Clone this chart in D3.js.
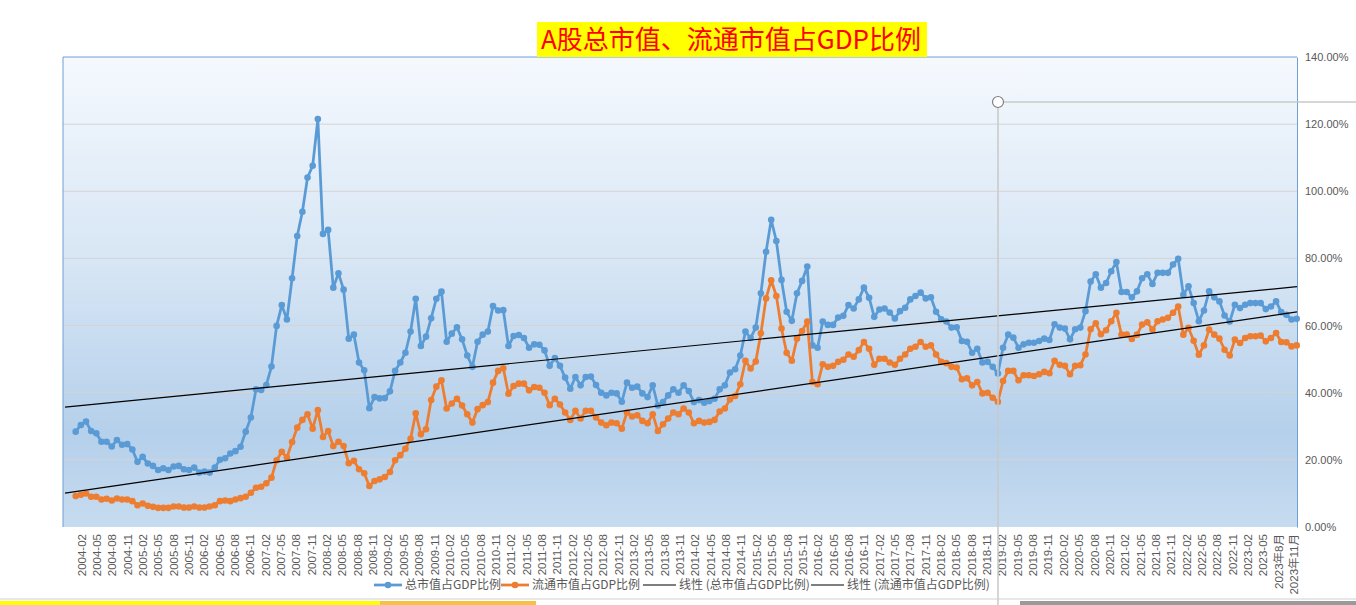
<!DOCTYPE html>
<html>
<head>
<meta charset="utf-8">
<script src="https://cdn.jsdelivr.net/npm/d3@7/dist/d3.min.js"></script>
<style>
  body { margin: 0; background: #fff; }
  svg { display: block; font-family: "Liberation Sans", "Noto Sans CJK SC", sans-serif; }
</style>
</head>
<body>
<svg id="chart" width="1356" height="605"></svg>
<script>
// ---- data (monthly, 2004-02 .. 2023-11, percent of GDP) ----
var startYear = 2004, startMonth = 2;

// 总市值占GDP比例
var totalRatio = [
  28.4,30.4,31.4,28.6,27.9,25.4,25.4,24.0,25.9,24.5,
  24.7,23.1,19.4,20.9,18.9,18.2,17.0,17.5,17.0,18.0,
  18.2,17.2,17.0,17.7,16.2,16.5,16.2,17.7,20.0,20.5,
  21.9,22.6,23.9,28.4,32.6,41.0,40.8,42.3,47.8,59.9,
  66.1,61.8,74.1,86.7,93.9,104.1,107.6,121.5,87.3,88.5,
  71.3,75.6,70.7,56.1,57.3,49.0,46.7,35.4,38.7,38.3,
  38.4,40.4,46.5,49.0,51.9,58.2,68.0,53.9,56.7,62.2,
  68.0,70.1,55.2,57.6,59.5,55.9,51.1,47.7,55.2,57.3,
  58.2,65.8,64.5,64.6,53.9,56.9,57.2,56.3,53.4,54.4,
  54.3,52.6,48.0,50.3,48.0,44.5,41.2,44.7,42.2,44.7,
  44.8,42.3,40.0,39.2,40.0,39.8,37.3,43.0,41.5,41.8,
  39.8,38.7,42.2,36.2,37.2,39.2,41.0,40.0,42.2,40.5,
  37.2,37.8,37.0,37.5,38.2,41.0,42.2,46.0,47.0,51.1,
  58.2,56.3,59.4,69.6,82.0,91.5,85.2,73.6,64.1,61.4,
  69.6,73.3,77.6,54.1,53.4,61.2,60.2,60.2,62.4,62.9,
  66.1,65.1,67.8,71.3,68.3,62.6,64.8,65.1,63.9,62.1,
  64.3,65.3,67.8,68.8,69.8,68.1,68.4,64.1,61.9,61.2,
  59.4,59.5,55.4,55.2,51.9,53.1,49.0,49.2,47.7,45.7,
  53.4,57.3,56.4,53.4,54.4,54.9,54.9,55.4,56.1,55.7,
  60.4,59.4,59.1,55.9,58.9,59.4,64.3,73.1,75.3,71.3,
  72.7,76.2,78.9,70.0,70.0,68.4,70.2,74.1,75.3,72.4,
  75.7,75.7,75.7,78.2,79.9,69.2,71.7,66.7,61.3,64.5,
  70.2,68.4,67.2,63.0,61.2,66.2,65.2,66.2,66.7,66.7,
  66.7,64.9,65.7,67.2,64.0,63.2,61.8,62.0
];

// 流通市值占GDP比例
var floatRatio = [
  9.2,9.6,10.0,9.0,9.0,8.2,8.4,7.9,8.5,8.2,
  8.2,7.7,6.5,7.0,6.3,6.0,5.7,5.7,5.7,6.1,
  6.1,5.8,5.8,6.1,5.8,5.8,6.1,6.5,7.7,7.9,
  7.7,8.2,8.6,9.0,10.2,11.7,12.0,13.0,14.7,19.9,
  22.4,20.7,25.3,29.6,31.9,33.6,29.3,34.8,26.8,28.6,
  24.1,25.4,24.1,19.0,19.7,17.2,16.0,12.2,13.7,14.2,
  14.9,16.4,19.9,21.4,23.3,26.3,33.9,27.6,29.1,37.8,
  41.8,43.7,35.3,36.8,38.2,36.2,33.6,31.1,35.1,36.3,
  37.2,43.0,46.5,47.3,39.7,42.0,42.7,42.7,40.7,41.7,
  41.5,40.0,36.3,38.2,36.5,34.1,31.9,34.6,32.3,34.6,
  34.6,32.6,31.1,30.3,31.1,30.9,29.3,34.1,32.9,33.3,
  31.6,30.9,33.6,28.6,30.6,32.3,34.1,33.6,35.3,34.1,
  30.9,31.6,31.1,31.3,31.9,34.4,35.3,38.0,39.0,42.5,
  49.5,47.2,49.3,57.7,68.1,73.5,68.8,59.1,51.9,49.5,
  56.1,58.4,61.2,43.2,42.5,48.5,47.7,48.0,49.2,49.8,
  51.4,50.7,52.7,55.1,53.1,48.3,50.1,50.1,49.0,48.3,
  50.1,51.4,53.1,53.7,55.1,53.7,54.1,51.4,49.2,48.8,
  47.7,47.5,44.0,44.3,42.2,43.2,39.8,40.0,38.5,37.3,
  43.5,46.5,46.5,43.7,45.2,45.2,45.0,45.5,46.2,45.8,
  49.5,48.3,48.0,45.5,48.0,48.2,51.4,58.9,60.7,57.4,
  58.6,61.3,63.8,57.3,57.3,56.0,57.3,60.3,61.0,58.8,
  61.3,61.8,62.3,63.8,65.7,57.3,59.3,55.5,51.3,54.1,
  58.8,57.3,56.1,52.8,51.1,55.8,54.8,56.3,56.8,56.8,
  57.0,55.3,56.3,57.8,55.1,55.0,53.8,54.1
];

var yTicks = [0, 20, 40, 60, 80, 100, 120, 140];
var labelEvery = 3;
var labelOverrides = { "2023-08": "2023年8月", "2023-11": "2023年11月" };

var seriesNames = ["总市值占GDP比例", "流通市值占GDP比例"];
var seriesColors = ["#5b9bd5", "#ed7d31"];
var legendNames = ["总市值占GDP比例", "流通市值占GDP比例", "线性 (总市值占GDP比例)", "线性 (流通市值占GDP比例)"];
var titleText = "A股总市值、流通市值占GDP比例";

// month categories
var months = [];
for (var k = 0; k < totalRatio.length; k++) {
  var m = startMonth - 1 + k;
  var yy = startYear + Math.floor(m / 12);
  var mm = (m % 12) + 1;
  months.push(yy + "-" + (mm < 10 ? "0" + mm : mm));
}

// ---- layout ----
var svg = d3.select("#chart");
var plot = { left: 63, right: 1297, top: 57, bottom: 527 };

var x = d3.scalePoint().domain(months).range([75.7, 1296.7]);
var xLabel = d3.scalePoint().domain(months).range([81.5, 1294]);
var y = d3.scaleLinear().domain([0, 140]).range([plot.bottom, plot.top]);

// plot background gradient
var defs = svg.append("defs");
var grad = defs.append("linearGradient").attr("id", "bg").attr("x1", 0).attr("y1", 0).attr("x2", 0).attr("y2", 1);
grad.append("stop").attr("offset", "0%").attr("stop-color", "#f5f9fe");
grad.append("stop").attr("offset", "45%").attr("stop-color", "#d6e5f4");
grad.append("stop").attr("offset", "80%").attr("stop-color", "#b5d0eb");
grad.append("stop").attr("offset", "100%").attr("stop-color", "#c6dbef");

svg.append("rect")
  .attr("x", plot.left).attr("y", plot.top)
  .attr("width", plot.right - plot.left).attr("height", plot.bottom - plot.top)
  .attr("fill", "url(#bg)");

// gridlines
svg.append("g").selectAll("line")
  .data(yTicks.filter(function (d) { return d > 0 && d < 140; }))
  .join("line")
  .attr("x1", plot.left).attr("x2", plot.right)
  .attr("y1", function (d) { return y(d); }).attr("y2", function (d) { return y(d); })
  .attr("stroke", "#d4d4d4").attr("stroke-width", 1);

// plot border (left / top)
svg.append("path")
  .attr("d", "M" + plot.left + "," + plot.bottom + "V" + plot.top + "H" + plot.right)
  .attr("fill", "none").attr("stroke", "#6f9fd3").attr("stroke-width", 1);

// right axis
var yAxis = d3.axisRight(y).tickValues(yTicks)
  .tickFormat(function (d) { return d.toFixed(2) + "%"; })
  .tickSize(0).tickPadding(8);
var gy = svg.append("g").attr("transform", "translate(" + plot.right + ",0)").call(yAxis);
gy.select(".domain").attr("stroke", "#6f9fd3");
gy.selectAll("text").attr("fill", "#595959").style("font-size", "11px")
  .style("font-family", "'Liberation Sans', sans-serif");

// x labels
svg.append("g").selectAll("text")
  .data(months.filter(function (d, i) { return i % labelEvery === 0; }))
  .join("text")
  .attr("transform", function (d) { return "translate(" + xLabel(d) + ",534) rotate(-90)"; })
  .attr("text-anchor", "end")
  .attr("dy", "0.35em")
  .attr("fill", "#595959")
  .style("font-size", "11.5px")
  .text(function (d) { return labelOverrides[d] || d; });

// series
var allSeries = [totalRatio, floatRatio];
var line = d3.line()
  .x(function (d, i) { return x(months[i]); })
  .y(function (d) { return y(d); });

allSeries.forEach(function (vals, s) {
  var g = svg.append("g");
  g.append("path").datum(vals)
    .attr("d", line)
    .attr("fill", "none")
    .attr("stroke", seriesColors[s])
    .attr("stroke-width", 2.75)
    .attr("stroke-linejoin", "round");
  g.selectAll("circle").data(vals).join("circle")
    .attr("cx", function (d, i) { return x(months[i]); })
    .attr("cy", function (d) { return y(d); })
    .attr("r", 3.3)
    .attr("fill", seriesColors[s]);
});

// linear trend lines (least squares on month index)
function fit(vals) {
  var n = vals.length, sx = 0, sy = 0, sxx = 0, sxy = 0;
  vals.forEach(function (v, i) { sx += i; sy += v; sxx += i * i; sxy += i * v; });
  var b = (n * sxy - sx * sy) / (n * sxx - sx * sx);
  var a = (sy - b * sx) / n;
  return { a: a, b: b };
}
var step = x.step();
var idxAt = function (px) { return (px - x(months[0])) / step; };
allSeries.forEach(function (vals) {
  var f = fit(vals);
  var x0 = plot.left + 2, x1 = plot.right;
  svg.append("line")
    .attr("x1", x0).attr("y1", y(f.a + f.b * idxAt(x0)))
    .attr("x2", x1).attr("y2", y(f.a + f.b * idxAt(x1)))
    .attr("stroke", "#000").attr("stroke-width", 1.2);
});

// title
svg.append("rect").attr("x", 537).attr("y", 22).attr("width", 390).attr("height", 35).attr("fill", "#ffff00");
svg.append("text")
  .attr("x", 731).attr("y", 40).attr("dy", "0.36em")
  .attr("text-anchor", "middle")
  .attr("fill", "#ff0000")
  .style("font-family", "'Noto Sans CJK SC', sans-serif")
  .style("font-size", "26px")
  .style("font-weight", "400")
  .text(titleText);

// legend
var legendX = [374, 501, 643, 811];
var legendY = 585;
var lg = svg.append("g");
legendNames.forEach(function (name, i) {
  var isSeries = i < 2;
  var col = isSeries ? seriesColors[i] : "#7f7f7f";
  var w = isSeries ? 28 : 33;
  lg.append("line")
    .attr("x1", legendX[i]).attr("x2", legendX[i] + w)
    .attr("y1", legendY).attr("y2", legendY)
    .attr("stroke", col).attr("stroke-width", isSeries ? 2.75 : 2);
  if (isSeries) {
    lg.append("circle").attr("cx", legendX[i] + w / 2).attr("cy", legendY).attr("r", 3.3).attr("fill", col);
  }
  lg.append("text")
    .attr("x", legendX[i] + w + 3).attr("y", legendY).attr("dy", "0.35em")
    .attr("fill", "#595959")
    .style("font-size", "12px")
    .style("font-family", "'Noto Sans CJK SC', sans-serif")
    .text(name);
});

// selection guide (vertical / horizontal rule with handle)
svg.append("line").attr("x1", 998).attr("x2", 998).attr("y1", 102).attr("y2", 605)
  .attr("stroke", "#c8c8c8").attr("stroke-width", 1.5);
svg.append("line").attr("x1", 998).attr("x2", 1356).attr("y1", 102).attr("y2", 102)
  .attr("stroke", "#c8c8c8").attr("stroke-width", 1.5);
svg.append("circle").attr("cx", 998).attr("cy", 102).attr("r", 5.5)
  .attr("fill", "#fff").attr("stroke", "#808080").attr("stroke-width", 1.2);

// bottom strip
svg.append("line").attr("x1", 0).attr("x2", 1356).attr("y1", 599).attr("y2", 599)
  .attr("stroke", "#d0d0d0").attr("stroke-width", 1);
svg.append("rect").attr("x", 0).attr("y", 601).attr("width", 380).attr("height", 4).attr("fill", "#ffff00");
svg.append("rect").attr("x", 380).attr("y", 601).attr("width", 156).attr("height", 4).attr("fill", "#f6c243");
svg.append("rect").attr("x", 1020).attr("y", 601).attr("width", 336).attr("height", 4).attr("fill", "#9a9a9a");
</script>
</body>
</html>
